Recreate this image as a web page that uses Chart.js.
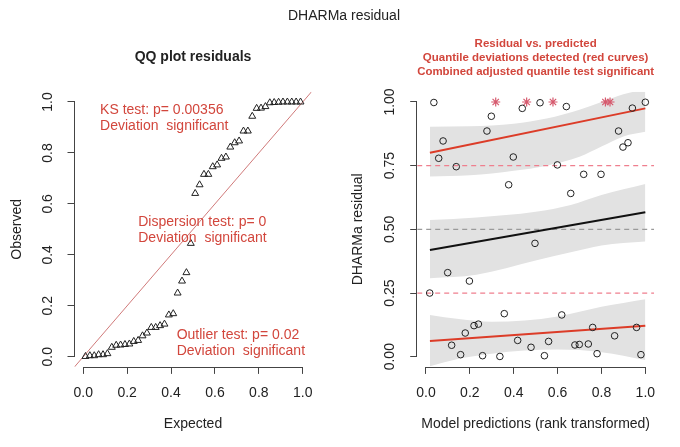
<!DOCTYPE html>
<html><head><meta charset="utf-8">
<script src="https://cdn.jsdelivr.net/npm/chart.js@4.4.1/dist/chart.umd.min.js"></script>
<style>
html,body{margin:0;padding:0;background:#fff;width:680px;height:447px;overflow:hidden;}
#wrap{position:relative;width:680px;height:447px;}
canvas{position:absolute;left:0;top:0;}
#main{position:absolute;left:0;width:688px;top:7px;line-height:16px;text-align:center;font-size:14px;font-family:"Liberation Sans",Arial,sans-serif;color:#222;}
</style></head><body>
<div id="wrap">
<canvas id="qq" width="680" height="447"></canvas>
<canvas id="rp" width="680" height="447"></canvas>
<div id="main">DHARMa residual</div>
</div>
<script>
// ---------- data ----------
const predRank = [0.017,0.036,0.058,0.078,0.099,0.117,0.138,0.158,0.179,0.198,
  0.219,0.239,0.258,0.278,0.298,0.318,0.337,0.357,0.377,0.398,
  0.418,0.439,0.459,0.479,0.497,0.520,0.540,0.559,0.579,0.599,
  0.619,0.640,0.660,0.679,0.699,0.719,0.740,0.760,0.780,0.798,
  0.818,0.839,0.860,0.878,0.898,0.921,0.941,0.960,0.980,1.000];
const residuals = [0.250,0.998,0.779,0.847,0.330,0.045,0.746,0.008,0.093,0.297,
  0.122,0.128,0.004,0.886,0.944,1.000,0.001,0.169,0.675,0.784,
  0.064,0.975,1.000,0.037,0.445,0.997,0.004,0.060,1.000,0.753,
  0.164,0.982,0.641,0.046,0.048,0.716,0.050,0.115,0.012,0.716,
  1.000,1.000,0.082,0.886,0.823,0.840,0.976,0.115,0.008,0.999];
const qqExpected = [0.01,0.03,0.05,0.07,0.09,0.11,0.13,0.15,0.17,0.19,
  0.21,0.23,0.25,0.27,0.29,0.31,0.33,0.35,0.37,0.39,
  0.41,0.43,0.45,0.47,0.49,0.51,0.53,0.55,0.57,0.59,
  0.61,0.63,0.65,0.67,0.69,0.71,0.73,0.75,0.77,0.79,
  0.81,0.83,0.85,0.87,0.89,0.91,0.93,0.95,0.97,0.99];
const qqObserved = residuals.slice().sort((a, b) => a - b);

// quantile regression fits (straight lines) over prediction range
const qLineX = [0.018, 1.0];
const q25Line = [0.062, 0.122];
const q50Line = [0.419, 0.567];
const q75Line = [0.801, 0.975];

// confidence bands
const bandHiX = [0.018, 0.2, 0.4, 0.55, 0.7, 0.8, 0.9, 1.0];
const bandHiTop = [0.903, 0.905, 0.915, 0.935, 0.97, 1.0, 1.03, 1.05];
const bandHiBot = [0.707, 0.712, 0.73, 0.75, 0.785, 0.825, 0.865, 0.883];
const bandMidX = [0.018, 0.23, 0.5, 0.66, 0.8, 1.0];
const bandMidTop = [0.537, 0.547, 0.569, 0.596, 0.635, 0.678];
const bandMidBot = [0.308, 0.322, 0.378, 0.41, 0.437, 0.452];
const bandLoX = [0.018, 0.15, 0.3, 0.45, 0.6, 0.8, 1.0];
const bandLoTop = [0.164, 0.148, 0.137, 0.142, 0.158, 0.196, 0.226];
const bandLoBot = [-0.037, -0.008, 0.012, 0.024, 0.028, 0.018, -0.013];

const refQuantiles = [0.25, 0.5, 0.75];

const xTickValues = [0, 0.2, 0.4, 0.6, 0.8, 1.0];
const xTickLabels = ["0.0", "0.2", "0.4", "0.6", "0.8", "1.0"];
const qqYTickValues = [0, 0.2, 0.4, 0.6, 0.8, 1.0];
const qqYTickLabels = ["0.0", "0.2", "0.4", "0.6", "0.8", "1.0"];
const resYTickValues = [0, 0.25, 0.5, 0.75, 1.0];
const resYTickLabels = ["0.00", "0.25", "0.50", "0.75", "1.00"];

const ksText = ["KS test: p= 0.00356", "Deviation  significant"];
const dispText = ["Dispersion test: p= 0", "Deviation  significant"];
const outText = ["Outlier test: p= 0.02", "Deviation  significant"];
const resTitle = ["Residual vs. predicted", "Quantile deviations detected (red curves)", "Combined adjusted quantile test significant"];

// ---------- styling ----------
const FONT = '"Liberation Sans", Arial, Helvetica, sans-serif';
const AX_MIN = -0.04, AX_MAX = 1.04;
const TXT = '#222';
const RED_TXT = '#d2463c';

const pairs = (xs, ys) => xs.map((x, i) => ({x: x, y: ys[i]}));

function axis(tickVals, tickLabels, isY, size, pad, titleText, titlePad) {
  return {
    type: 'linear', min: AX_MIN, max: AX_MAX,
    afterBuildTicks: s => { s.ticks = tickVals.map(v => ({value: v})); },
    afterFit: s => { if (isY) s.width = size; else s.height = size; },
    grid: {drawOnChartArea: false, drawTicks: true, tickLength: 7, color: '#444', lineWidth: 1},
    border: {display: false},
    ticks: Object.assign({
      autoSkip: false, padding: pad, color: TXT,
      font: {family: FONT, size: 14},
      callback: (v, i) => tickLabels[i]
    }, isY ? {minRotation: 90, maxRotation: 90, crossAlign: 'center'} : {minRotation: 0, maxRotation: 0}),
    title: {display: true, text: titleText, color: TXT, font: {family: FONT, size: 14}, padding: titlePad}
  };
}

const rAxisLines = {
  id: 'rAxisLines',
  afterDraw(chart) {
    const {ctx, chartArea: a, scales: {x, y}} = chart;
    const xt = x.ticks, yt = y.ticks;
    ctx.save();
    ctx.strokeStyle = '#444'; ctx.lineWidth = 1;
    ctx.beginPath();
    ctx.moveTo(x.getPixelForValue(xt[0].value), Math.round(a.bottom) + 0.5);
    ctx.lineTo(x.getPixelForValue(xt[xt.length - 1].value), Math.round(a.bottom) + 0.5);
    ctx.moveTo(Math.round(a.left) - 0.5, y.getPixelForValue(yt[0].value));
    ctx.lineTo(Math.round(a.left) - 0.5, y.getPixelForValue(yt[yt.length - 1].value));
    ctx.stroke();
    ctx.restore();
  }
};

const notes = {
  id: 'notes',
  afterDatasetsDraw(chart, args, opts) {
    if (!opts.items) return;
    const {ctx, chartArea: a} = chart;
    ctx.save();
    ctx.fillStyle = opts.color;
    ctx.font = '14px ' + FONT;
    ctx.textAlign = 'left'; ctx.textBaseline = 'middle';
    for (const n of opts.items) {
      n.lines.forEach((t, i) => ctx.fillText(t, a.left + n.fx * a.width, a.top + n.fy * a.height + i * opts.lineHeight));
    }
    ctx.restore();
  }
};

// ---------- QQ plot ----------
new Chart(document.getElementById('qq'), {
  type: 'scatter',
  data: {datasets: [
    {type: 'scatter', data: pairs(qqExpected, qqObserved), pointStyle: 'triangle', pointRadius: 4,
     borderColor: '#222', backgroundColor: 'rgba(0,0,0,0)', borderWidth: 1, order: 0},
    {type: 'line', data: [{x: AX_MIN, y: AX_MIN}, {x: AX_MAX, y: AX_MAX}], borderColor: '#d07a7a',
     borderWidth: 1, pointRadius: 0, fill: false, order: 1}
  ]},
  options: {
    responsive: false, animation: false, events: [],
    layout: {padding: {left: 0, top: 0, right: 368.5, bottom: 0}},
    scales: {
      x: axis(xTickValues, xTickLabels, false, 80.1, 10.7, 'Expected', {top: 0, bottom: 14.6}),
      y: axis(qqYTickValues, qqYTickLabels, true, 74.5, 9.8, 'Observed', {top: 8.3, bottom: 0})
    },
    plugins: {
      legend: {display: false}, tooltip: {enabled: false},
      title: {display: true, fullSize: false, text: 'QQ plot residuals', color: TXT,
        font: {family: FONT, size: 14, weight: 'bold', lineHeight: 1.2}, padding: {top: 48.6, bottom: 26.4}},
      notes: {color: RED_TXT, lineHeight: 16.5, items: [
        {lines: ksText, fx: 0.108, fy: 0.066},
        {lines: dispText, fx: 0.269, fy: 0.472},
        {lines: outText, fx: 0.431, fy: 0.884}
      ]}
    }
  },
  plugins: [rAxisLines, notes]
});

// ---------- residual vs predicted ----------
const bandStyle = {type: 'line', borderWidth: 0, borderColor: 'rgba(0,0,0,0)', pointRadius: 0,
  backgroundColor: '#e2e2e2', cubicInterpolationMode: 'monotone', order: 3};
const refDatasets = refQuantiles.map(q => ({
  type: 'line', data: [{x: AX_MIN, y: q}, {x: AX_MAX, y: q}],
  borderColor: q === 0.5 ? '#9a9a9a' : '#ef7f8e', borderWidth: 1.3, borderDash: [5, 4],
  pointRadius: 0, fill: false, order: 2
}));
const isOutlier = residuals.map(r => r >= 1);

new Chart(document.getElementById('rp'), {
  type: 'scatter',
  data: {datasets: [
    Object.assign({}, bandStyle, {data: pairs(bandHiX, bandHiBot), fill: false}),
    Object.assign({}, bandStyle, {data: pairs(bandHiX, bandHiTop), fill: '-1'}),
    Object.assign({}, bandStyle, {data: pairs(bandMidX, bandMidBot), fill: false}),
    Object.assign({}, bandStyle, {data: pairs(bandMidX, bandMidTop), fill: '-1'}),
    Object.assign({}, bandStyle, {data: pairs(bandLoX, bandLoBot), fill: false}),
    Object.assign({}, bandStyle, {data: pairs(bandLoX, bandLoTop), fill: '-1'}),
    ...refDatasets,
    {type: 'line', data: pairs(qLineX, q25Line), borderColor: '#dc3c28', borderWidth: 2, pointRadius: 0, fill: false, order: 1},
    {type: 'line', data: pairs(qLineX, q50Line), borderColor: '#111', borderWidth: 2, pointRadius: 0, fill: false, order: 1},
    {type: 'line', data: pairs(qLineX, q75Line), borderColor: '#dc3c28', borderWidth: 2, pointRadius: 0, fill: false, order: 1},
    {type: 'scatter', data: pairs(predRank, residuals).filter((p, i) => !isOutlier[i]), pointStyle: 'circle',
     pointRadius: 3.3, borderColor: '#222', backgroundColor: 'rgba(0,0,0,0)', borderWidth: 1, order: 0},
    {type: 'scatter', data: pairs(predRank, residuals).filter((p, i) => isOutlier[i]), pointStyle: 'star',
     pointRadius: 4.5, borderColor: '#d65a6e', backgroundColor: 'rgba(0,0,0,0)', borderWidth: 1.2, order: 0}
  ]},
  options: {
    responsive: false, animation: false, events: [],
    layout: {padding: {left: 340, top: 0, right: 25.9, bottom: 0}},
    scales: {
      x: axis(xTickValues, xTickLabels, false, 80.1, 10.7, 'Model predictions (rank transformed)', {top: 0, bottom: 14.6}),
      y: axis(resYTickValues, resYTickLabels, true, 77.2, 6.6, 'DHARMa residual', {top: 9.6, bottom: 0})
    },
    plugins: {
      legend: {display: false}, tooltip: {enabled: false},
      title: {display: true, fullSize: false, text: resTitle, color: RED_TXT,
        font: {family: FONT, size: 11.5, weight: 'bold', lineHeight: '14px'}, padding: {top: 37, bottom: 12.8}},
      filler: {propagate: false}
    }
  },
  plugins: [rAxisLines]
});
</script>
</body></html>
